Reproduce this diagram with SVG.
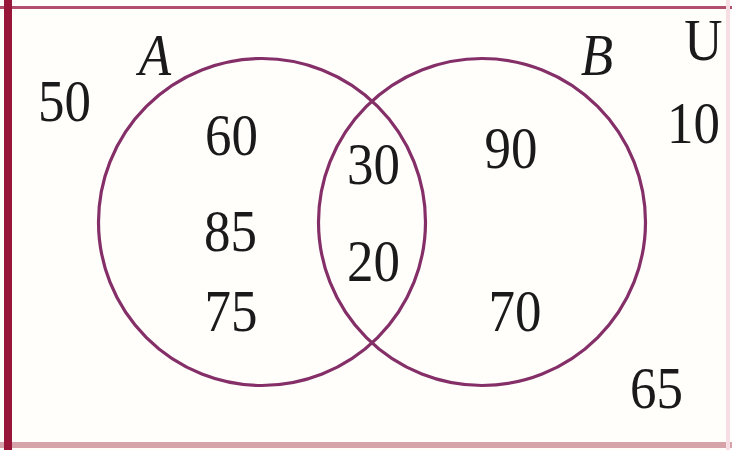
<svg xmlns="http://www.w3.org/2000/svg" width="732" height="450" viewBox="0 0 732 450">
  <style>
    .set { fill: none; stroke: #852f68; stroke-width: 3.2; }
    .num { font-family: "Liberation Serif", "Times New Roman", serif; font-size: 53px; fill: #1a1a1a; text-anchor: middle; }
    .lbl { font-family: "Liberation Serif", "Times New Roman", serif; font-size: 53px; font-style: italic; fill: #1a1a1a; text-anchor: middle; }
    .uni { font-family: "Liberation Serif", "Times New Roman", serif; font-size: 53px; fill: #1a1a1a; text-anchor: middle; }
  </style>
  <rect x="0" y="0" width="732" height="450" fill="#fffefb"/>
  <g id="frame">
    <line x1="0" y1="7.5" x2="732" y2="7.5" stroke="#b24f6f" stroke-width="3"/>
    <line x1="0" y1="445" x2="732" y2="445" stroke="#d6a3ab" stroke-width="6"/>
    <line x1="728" y1="0" x2="728" y2="450" stroke="#f7dde4" stroke-width="4"/>
    <line x1="8" y1="0" x2="8" y2="450" stroke="#981637" stroke-width="8"/>
  </g>
  <g id="set-A">
    <circle class="set" cx="262" cy="222" r="163.5"/>
  </g>
  <g id="set-B">
    <circle class="set" cx="482" cy="222" r="163.5"/>
  </g>
  <g id="labels" transform="scale(1,1.12)">
    <text class="lbl" x="155" y="67">A</text>
    <text class="lbl" x="597" y="67">B</text>
    <text class="uni" x="703.5" y="53.6">U</text>
    <text class="num" x="64.5" y="108">50</text>
    <text class="num" x="231.5" y="138.4">60</text>
    <text class="num" x="230.5" y="224.1">85</text>
    <text class="num" x="231" y="295.5">75</text>
    <text class="num" x="373.5" y="164.3">30</text>
    <text class="num" x="373.5" y="250.9">20</text>
    <text class="num" x="511" y="150">90</text>
    <text class="num" x="515" y="295.5">70</text>
    <text class="num" x="693.5" y="127.7">10</text>
    <text class="num" x="656.5" y="364.3">65</text>
  </g>
</svg>
